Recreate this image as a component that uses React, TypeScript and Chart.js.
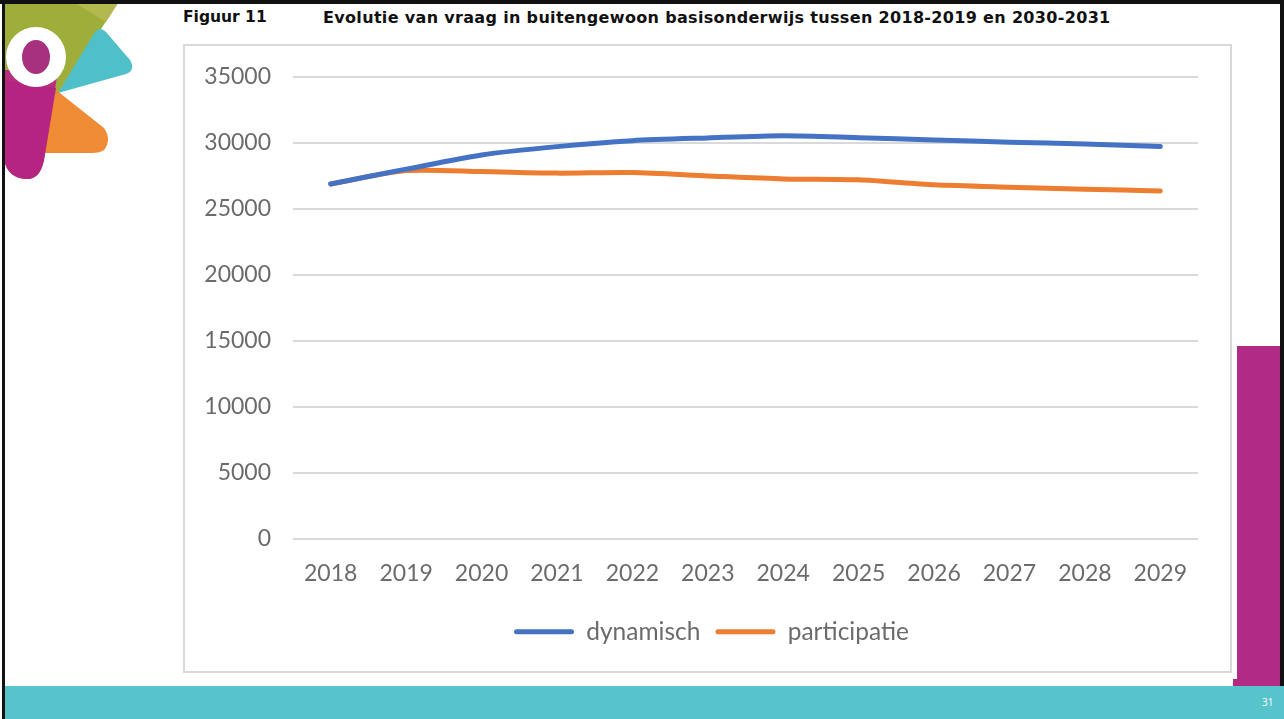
import React, { useEffect, useRef } from "react";
import { Chart, registerables } from "chart.js";

Chart.register(...registerables);

// ---- data ----
const years = ["2018", "2019", "2020", "2021", "2022", "2023", "2024", "2025", "2026", "2027", "2028", "2029"];
const dynamisch = [26890, 28010, 29090, 29720, 30170, 30380, 30550, 30400, 30230, 30050, 29920, 29720];
const participatie = [26890, 27900, 27830, 27710, 27750, 27500, 27270, 27200, 26820, 26640, 26490, 26360];
const seriesNames = ["dynamisch", "participatie"];
const seriesColors = ["#4472C4", "#ED7D31"];
const yMin = 0;
const yMax = 35000;
const yStep = 5000;
const figureLabel = "Figuur 11";
const figureTitle = "Evolutie van vraag in buitengewoon basisonderwijs tussen 2018-2019 en 2030-2031";
const pageNumber = "31";

const FONT = "Lato, 'Open Sans', sans-serif";
const TEXT_COLOR = "#6b6b6b";

// shifts the legend's box so that it centres under the slide area like the original
const legendShift = {
  id: "legendShift",
  afterLayout(chart: any) {
    if (chart.legend) chart.legend.left += 40;
  },
};

function ChartBox() {
  const ref = useRef<HTMLCanvasElement>(null);
  useEffect(() => {
    if (!ref.current) return;
    const chart = new Chart(ref.current, {
      type: "line",
      data: {
        labels: years,
        datasets: [dynamisch, participatie].map((d, i) => ({
          label: seriesNames[i],
          data: d,
          borderColor: seriesColors[i],
          backgroundColor: seriesColors[i],
          borderWidth: 5,
          borderCapStyle: "round" as const,
          borderJoinStyle: "round" as const,
          pointRadius: 0,
          tension: 0.25,
          fill: false,
        })),
      },
      plugins: [legendShift],
      options: {
        animation: false,
        responsive: false,
        layout: { padding: { top: 31, right: 32, bottom: 17, left: 0 } },
        scales: {
          x: {
            offset: true,
            grid: { display: false, drawTicks: false },
            border: { display: false },
            ticks: { font: { family: FONT, size: 23 }, color: TEXT_COLOR, padding: 21 },
            afterFit: (s: any) => {
              s.height = 66;
              s.paddingLeft = 0;
              s.paddingRight = 0;
            },
          },
          y: {
            min: yMin,
            max: yMax,
            ticks: {
              stepSize: yStep,
              font: { family: FONT, size: 23 },
              color: TEXT_COLOR,
              padding: 22,
              callback: (v: any) => String(v),
            },
            grid: { color: "#d9d9d9", lineWidth: 2, drawTicks: false },
            border: { display: false },
            afterFit: (s: any) => {
              s.width = 108;
              s.paddingTop = 0;
              s.paddingBottom = 0;
            },
          },
        },
        plugins: {
          legend: {
            position: "bottom",
            labels: {
              boxWidth: 60,
              boxHeight: 5,
              useBorderRadius: true,
              borderRadius: 2.5,
              padding: 15,
              font: { family: FONT, size: 24.5 },
              color: TEXT_COLOR,
              generateLabels: (c: any) =>
                Chart.defaults.plugins.legend.labels.generateLabels(c).map((l: any) => ({ ...l, lineWidth: 0 })),
            },
          },
          tooltip: { enabled: false },
        },
      },
    } as any);
    return () => chart.destroy();
  }, []);
  return <canvas ref={ref} width={1045} height={625} style={{ display: "block" }} />;
}

function Logo() {
  return (
    <svg width={140} height={190} style={{ position: "absolute", left: 0, top: 0 }}>
      {/* olive */}
      <path d="M4 3 L118 3 L58 95 L4 100 Z" fill="#9fae3b" />
      <path d="M75 3 L118 3 L106 22 Z" fill="#b3b84f" />
      {/* teal */}
      <path d="M58 93 L95 32 Q100 26 106 32 L130 60 Q136 70 126 74 Z" fill="#4fc0c9" />
      {/* orange */}
      <path d="M56 90 L104 128 Q112 140 104 150 Q100 153 92 153 L40 153 Z" fill="#ef8a35" />
      {/* magenta */}
      <path d="M4 70 L58 70 L44 160 Q40 180 26 179 Q8 178 4 160 Z" fill="#b8287f" opacity={0.95} />
      <path d="M4 80 L56 88 L44 160 Q40 180 26 179 Q8 178 4 160 Z" fill="#b52480" />
      {/* white O */}
      <ellipse cx={36} cy={57} rx={30} ry={30} fill="#ffffff" />
      <ellipse cx={36} cy={57} rx={14} ry={17} fill="#a7317f" />
    </svg>
  );
}

const titleStyle: React.CSSProperties = {
  position: "absolute",
  top: 8,
  fontFamily: "'DejaVu Sans', sans-serif",
  fontWeight: "bold",
  fontSize: 16,
  color: "#111",
  whiteSpace: "nowrap",
};

export default function App() {
  return (
    <div
      style={{
        position: "fixed",
        left: 0,
        top: 0,
        width: 1284,
        height: 719,
        background: "#ffffff",
        overflow: "hidden",
      }}
    >
      <Logo />
      {/* frame */}
      <div style={{ position: "absolute", left: 0, top: 0, width: 1284, height: 4, background: "#111" }} />
      <div style={{ position: "absolute", left: 2, top: 0, width: 3, height: 719, background: "#111" }} />
      <div style={{ position: "absolute", left: 1280, top: 0, width: 4, height: 719, background: "#111" }} />
      {/* title */}
      <div style={{ ...titleStyle, left: 183, fontSize: 15.5 }}>{figureLabel}</div>
      <div style={{ ...titleStyle, left: 323, letterSpacing: 0.33 }}>{figureTitle}</div>
      {/* chart box */}
      <div
        style={{
          position: "absolute",
          left: 183,
          top: 44,
          width: 1045,
          height: 625,
          border: "2px solid #d9d9d9",
          background: "#fff",
        }}
      >
        <ChartBox />
      </div>
      {/* magenta bar */}
      <div style={{ position: "absolute", left: 1237, top: 346, width: 43, height: 340, background: "#b02a86" }} />
      <div style={{ position: "absolute", left: 1233, top: 679, width: 6, height: 7, background: "#b02a86" }} />
      {/* teal band */}
      <div style={{ position: "absolute", left: 5, top: 686, width: 1279, height: 33, background: "#57c3cb" }} />
      <div
        style={{
          position: "absolute",
          left: 1262,
          top: 695,
          fontFamily: "'Open Sans', sans-serif",
          fontSize: 10,
          color: "#ffffff",
        }}
      >
        {pageNumber}
      </div>
    </div>
  );
}
